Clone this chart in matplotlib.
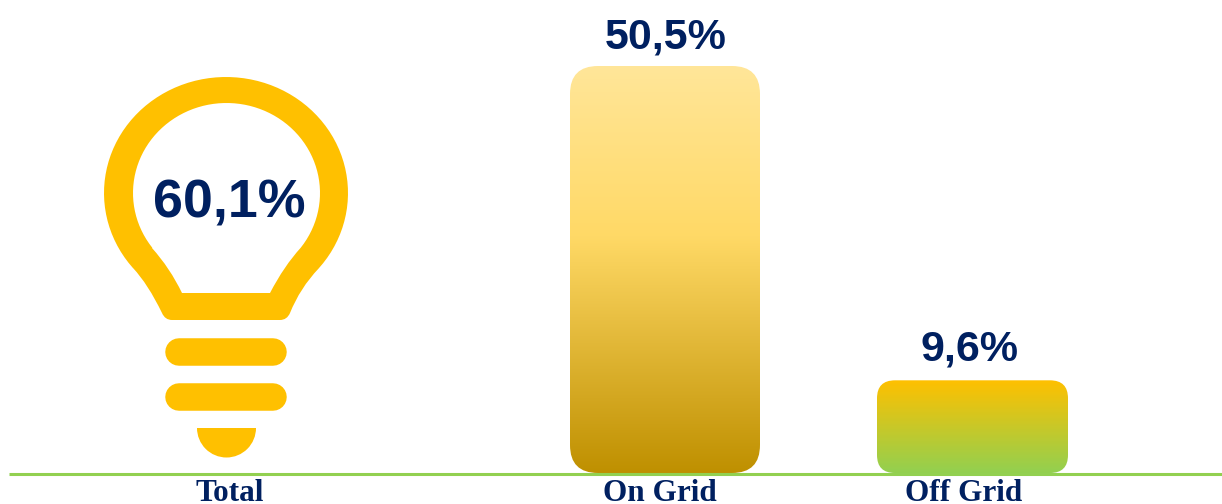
from matplotlib import pyplot as plt
from matplotlib.colors import LinearSegmentedColormap
from matplotlib.patches import FancyBboxPatch, PathPatch, Wedge
from matplotlib.path import Path
import numpy as np

categories = ["Total", "On Grid", "Off Grid"]
total_value = "60,1%"
bar_labels = ["50,5%", "9,6%"]
# drawn heights, the small bar is not quite to scale
bar_heights = [50.5, 11.5]

W, H = 1222, 504
BASE_Y = 473
PX_PER_UNIT = 407 / 50.5
NAVY = "#002060"
YELLOW = "#FFC000"
GREEN = "#92D050"


def ellipse_arc(cx, cy, rx, ry, x0, y0, x1, y1):
    # arc over the top of the bulb, from the lower left to the lower right point
    a0 = np.arctan2((y0 - cy) / ry, (x0 - cx) / rx)
    a1 = np.arctan2((y1 - cy) / ry, (x1 - cx) / rx)
    # y runs downwards here, so the angle has to grow through 270 degrees (the top)
    if a1 < a0:
        a1 += 2 * np.pi
    t = np.linspace(a0, a1, 80)
    return list(zip(cx + rx * np.cos(t), cy + ry * np.sin(t)))


def bulb_path(arc, tail):
    verts = list(arc)
    codes = [Path.MOVETO] + [Path.LINETO] * (len(arc) - 1)
    for code, pts in tail:
        verts += pts
        codes += [code] * len(pts)
    return Path(verts, codes)


fig = plt.figure(figsize=(W / 100, H / 100), dpi=100, facecolor="white")
ax = fig.add_axes([0, 0, 1, 1])
ax.set_xlim(0, W)
ax.set_ylim(-(H - BASE_Y) / PX_PER_UNIT, BASE_Y / PX_PER_UNIT)
ax.axis("off")

px = fig.add_axes([0, 0, 1, 1], facecolor="none")
px.set_xlim(0, W)
px.set_ylim(H, 0)
px.axis("off")

# bars with vertical gradient
bar_x = [570, 877]
bar_w = [190, 191]
radius = [28, 18]
ramps = [["#FFE699", "#FFD966", "#BF9000"], [YELLOW, GREEN]]
ramp_stops = [[0, 0.42, 1], [0, 1]]
for i in range(2):
    x, w, h = bar_x[i], bar_w[i], bar_heights[i]
    patch = FancyBboxPatch((x, 0), w, h, boxstyle="round,pad=0,rounding_size=%d" % radius[i],
                           mutation_aspect=1 / PX_PER_UNIT, fc="none", ec="none")
    ax.add_patch(patch)
    cmap = LinearSegmentedColormap.from_list("r%d" % i, list(zip(ramp_stops[i], ramps[i])))
    grad = np.linspace(0, 1, 256).reshape(-1, 1)
    im = ax.imshow(grad, cmap=cmap, extent=[x, x + w, 0, h], origin="upper", aspect="auto", zorder=2)
    im.set_clip_path(patch)
ax.set_xlim(0, W)
ax.set_ylim(-(H - BASE_Y) / PX_PER_UNIT, BASE_Y / PX_PER_UNIT)

ax.plot([9, W], [-0.17, -0.17], color=GREEN, lw=2.2, zorder=3, solid_capstyle="butt")

ax.text(666, bar_heights[0] + 2.2, bar_labels[0], color=NAVY, fontsize=31, fontweight="bold",
        family="Liberation Sans", ha="center", va="baseline", zorder=4)
ax.text(969.5, bar_heights[1] + 2.5, bar_labels[1], color=NAVY, fontsize=31, fontweight="bold",
        family="Liberation Sans", ha="center", va="baseline", zorder=4)

# light bulb
outer = ellipse_arc(226, 193, 122, 116, 133, 268, 318, 268)
outer_tail = [
    (Path.CURVE3, [(300, 288), (290, 313)]),
    (Path.CURVE3, [(287, 320), (280, 320)]),
    (Path.LINETO, [(172, 320)]),
    (Path.CURVE3, [(165, 320), (162, 313)]),
    (Path.CURVE3, [(148, 284), (133, 268)]),
]
px.add_patch(PathPatch(bulb_path(outer, outer_tail), fc=YELLOW, ec="none"))

inner = ellipse_arc(226.5, 193, 93.5, 90, 152, 248, 301, 248)
inner_tail = [
    (Path.CURVE3, [(284, 266), (270, 293)]),
    (Path.LINETO, [(182, 293)]),
    (Path.CURVE3, [(170, 268), (152, 248)]),
]
px.add_patch(PathPatch(bulb_path(inner, inner_tail), fc="white", ec="none"))

for y in [351.7, 396.9]:
    px.plot([179, 273], [y, y], color=YELLOW, lw=19.8, solid_capstyle="round")
px.add_patch(Wedge((226.5, 428), 29.5, 0, 180, fc=YELLOW, ec="none"))

px.text(229.5, 217.5, total_value, color=NAVY, fontsize=38.7, fontweight="bold",
        family="Liberation Sans", ha="center", va="baseline")

label_x = [229.5, 659.5, 963.5]
for x, name in zip(label_x, categories):
    px.text(x, 501, name, color=NAVY, fontsize=22.5, fontweight="bold",
            family="Liberation Serif", ha="center", va="baseline")

fig.savefig("out.png", dpi=100)
